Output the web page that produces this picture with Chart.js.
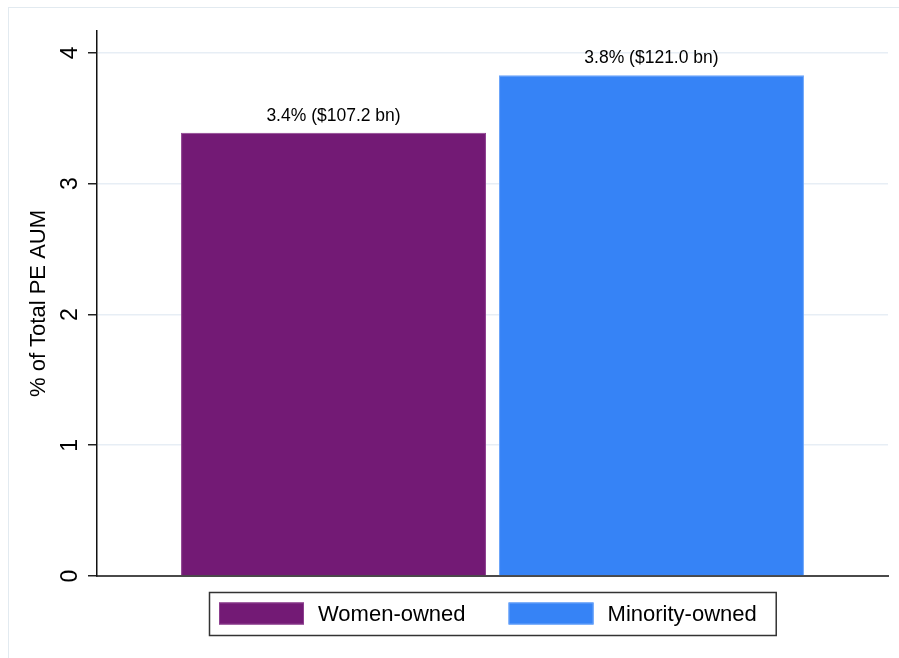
<!DOCTYPE html>
<html>
<head>
<meta charset="utf-8">
<script src="https://cdn.jsdelivr.net/npm/chart.js@4/dist/chart.umd.min.js"></script>
<style>
  html, body { margin: 0; padding: 0; background: #ffffff; }
  canvas { display: block; }
</style>
</head>
<body>
<canvas id="c" width="899" height="658"></canvas>
<script>
// ---- data ----
const categories = ['Women-owned', 'Minority-owned'];
const shareValues = [3.39, 3.83];
const barLabels = ['3.4% ($107.2 bn)', '3.8% ($121.0 bn)'];
const yTicks = [0, 1, 2, 3, 4];
const yTickLabels = ['0', '1', '2', '3', '4'];
const yTitle = '% of Total PE AUM';

const fillColors = ['#731a75', '#3683f6'];
const edgeColors = ['#8d3f8f', '#6aa4fa'];
const FONT = '"Liberation Sans", Arial, Helvetica, sans-serif';

const datasets = categories.map((name, i) => ({
  label: name,
  data: [shareValues[i]],
  backgroundColor: fillColors[i],
  borderColor: edgeColors[i],
  borderWidth: 1,
  categoryPercentage: 0.804,
  barPercentage: 0.959
}));

const framePlugin = {
  id: 'frame',
  beforeDraw(chart) {
    const ctx = chart.ctx;
    ctx.save();
    ctx.fillStyle = '#ffffff';
    ctx.fillRect(0, 0, chart.width, chart.height);
    ctx.strokeStyle = '#e2eaf0';
    ctx.lineWidth = 1;
    ctx.strokeRect(8.5, 7.5, chart.width + 20, chart.height + 20);
    ctx.restore();
  }
};

const decorPlugin = {
  id: 'decor',
  afterDatasetsDraw(chart) {
    const ctx = chart.ctx;
    ctx.save();
    ctx.fillStyle = '#000000';
    ctx.font = '17.5px ' + FONT;
    ctx.textAlign = 'center';
    ctx.textBaseline = 'middle';
    chart.data.datasets.forEach((ds, i) => {
      const bar = chart.getDatasetMeta(i).data[0];
      ctx.fillText(barLabels[i], bar.x, bar.y - 17);
    });
    ctx.restore();
  },
  afterDraw(chart) {
    const ctx = chart.ctx;
    const ys = chart.scales.y;
    const area = chart.chartArea;
    ctx.save();
    // rotated y tick labels
    ctx.fillStyle = '#000000';
    ctx.font = '23px ' + FONT;
    ctx.textAlign = 'center';
    ctx.textBaseline = 'middle';
    yTicks.forEach((v, i) => {
      const y = ys.getPixelForValue(v);
      ctx.save();
      ctx.translate(71, y);
      ctx.rotate(-Math.PI / 2);
      ctx.fillText(yTickLabels[i], 0, 0);
      ctx.restore();
    });
    // legend with frame
    ctx.font = '22px ' + FONT;
    const pad = 10, sw = 85, sh = 22, gapText = 14, itemGap = 43, padR = 19;
    const items = chart.data.datasets.map(ds => ({
      text: ds.label, color: ds.backgroundColor, edge: ds.borderColor,
      w: ctx.measureText(ds.label).width
    }));
    let total = pad + padR + itemGap * (items.length - 1);
    items.forEach(it => { total += sw + gapText + it.w; });
    const cx = (area.left + area.right) / 2;
    const boxL = Math.round(cx - total / 2);
    const boxT = 592, boxH = 43;
    ctx.strokeStyle = '#333333';
    ctx.lineWidth = 1.5;
    ctx.strokeRect(boxL + 0.5, boxT + 0.5, total, boxH);
    let x = boxL + pad;
    const midY = boxT + boxH / 2;
    ctx.textAlign = 'left';
    items.forEach(it => {
      ctx.fillStyle = it.color;
      ctx.fillRect(x, midY - sh / 2, sw, sh);
      ctx.strokeStyle = it.edge;
      ctx.lineWidth = 1;
      ctx.strokeRect(x + 0.5, midY - sh / 2 + 0.5, sw - 1, sh - 1);
      x += sw + gapText;
      ctx.fillStyle = '#000000';
      ctx.fillText(it.text, x, midY + 1);
      x += it.w + itemGap;
    });
    ctx.restore();
  }
};

new Chart(document.getElementById('c'), {
  type: 'bar',
  data: { labels: [''], datasets: datasets },
  options: {
    responsive: false,
    animation: false,
    layout: { padding: { left: 8, top: 31, right: 11, bottom: 82 } },
    plugins: { legend: { display: false }, tooltip: { enabled: false } },
    scales: {
      x: {
        type: 'category',
        offset: true,
        grid: { display: false, drawTicks: false },
        ticks: { display: false },
        border: { display: true, color: '#4a4a4a', width: 2 },
        afterFit(scale) { scale.height = 0; }
      },
      y: {
        type: 'linear',
        min: 0,
        max: 4.168,
        afterBuildTicks(scale) { scale.ticks = yTicks.map(v => ({ value: v })); },
        grid: {
          color: '#e7eef5',
          lineWidth: 1.5,
          tickColor: '#222222',
          tickLength: 9,
          tickWidth: 1.5,
          drawTicks: true
        },
        border: { display: true, color: '#111111', width: 1.5 },
        ticks: { display: false },
        title: {
          display: true,
          text: yTitle,
          color: '#000000',
          font: { family: FONT, size: 22 },
          padding: { top: 18, bottom: 0 }
        },
        afterFit(scale) { scale.width = 89; }
      }
    }
  },
  plugins: [framePlugin, decorPlugin]
});
</script>
</body>
</html>
